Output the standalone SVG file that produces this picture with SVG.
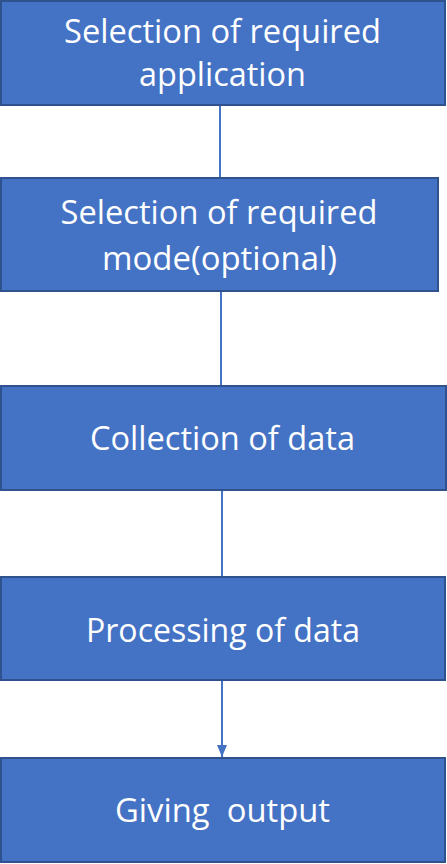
<svg xmlns="http://www.w3.org/2000/svg" width="447" height="864" viewBox="0 0 447 864">
<defs>
<style>
.box{fill:#4472C4;stroke:#2F528F;stroke-width:2}
.t{font-family:"Open Sans","Liberation Sans",sans-serif;font-size:32px;fill:#FFFFFF;text-anchor:middle;white-space:pre}
.c{stroke:#4472C4;stroke-width:2;fill:none}
</style>
<marker id="arr" viewBox="0 0 12 10" refX="12" refY="5" markerWidth="12" markerHeight="10" markerUnits="userSpaceOnUse" orient="auto">
<path d="M0,0 L12,5 L0,10 Z" fill="#4472C4"/>
</marker>
</defs>
<rect width="447" height="864" fill="#FFFFFF"/>
<g id="connectors">
<line class="c" x1="220" y1="105" x2="220" y2="178"/>
<line class="c" x1="221" y1="291" x2="221" y2="386"/>
<line class="c" x1="222" y1="490" x2="222" y2="577"/>
<line class="c" x1="222" y1="680" x2="222" y2="757" marker-end="url(#arr)"/>
</g>
<g id="node1">
<rect class="box" x="1" y="1" width="444" height="104"/>
<text class="t" x="222.5" y="43" textLength="317" lengthAdjust="spacingAndGlyphs">Selection of required</text>
<text class="t" x="222.5" y="86" textLength="167" lengthAdjust="spacingAndGlyphs">application</text>
</g>
<g id="node2">
<rect class="box" x="1" y="178" width="437" height="113"/>
<text class="t" x="219" y="224" textLength="317" lengthAdjust="spacingAndGlyphs">Selection of required</text>
<text class="t" x="219.5" y="270" textLength="235" lengthAdjust="spacingAndGlyphs">mode(optional)</text>
</g>
<g id="node3">
<rect class="box" x="1" y="386" width="445" height="104"/>
<text class="t" x="222.5" y="450" textLength="265" lengthAdjust="spacingAndGlyphs">Collection of data</text>
</g>
<g id="node4">
<rect class="box" x="1" y="577" width="444" height="103"/>
<text class="t" x="223" y="642" textLength="274" lengthAdjust="spacingAndGlyphs">Processing of data</text>
</g>
<g id="node5">
<rect class="box" x="1" y="758" width="444" height="104"/>
<text class="t" x="222.5" y="822" textLength="215" lengthAdjust="spacingAndGlyphs">Giving  output</text>
</g>
</svg>
